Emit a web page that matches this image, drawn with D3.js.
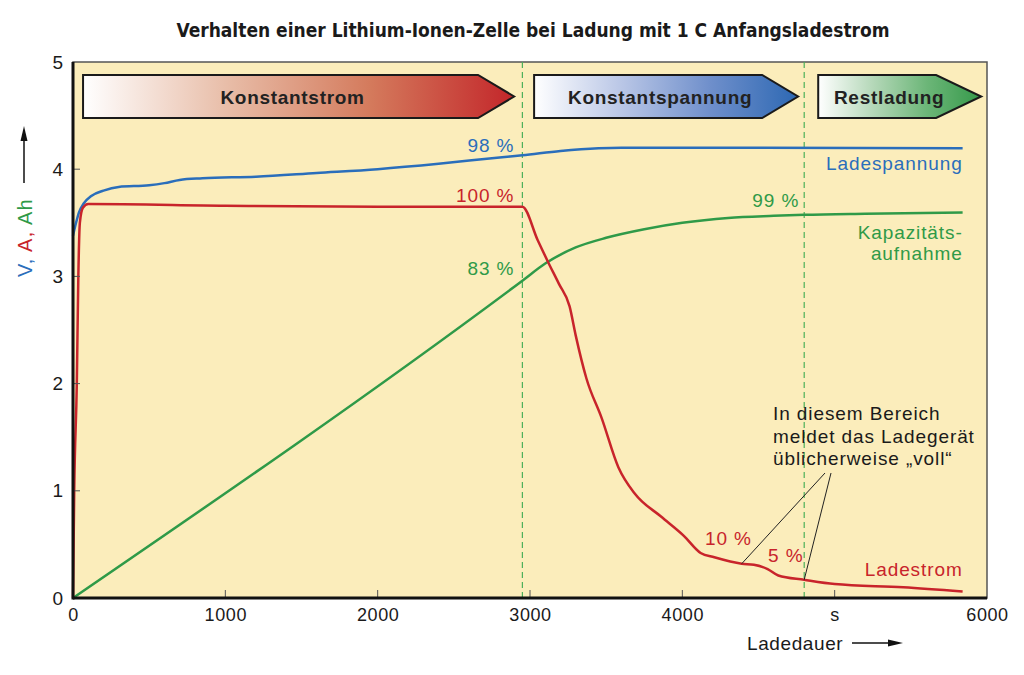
<html>
    <head>
        <title>Lithium-Ionen-Zelle Ladung</title>
        <script src="https://d3js.org/d3.v7.min.js"></script>
    </head>
    <style>
        body { margin: 0; background: #fff; }
        text { font-family: "Liberation Sans", Arial, sans-serif; }
        .narrow { font-family: "Liberation Sans Narrow", "DejaVu Sans Condensed", sans-serif; }
    </style>
    <body>
        <svg id="chart" width="1024" height="675"></svg>
        <script>
            // Ladespannung (V)
            const voltTime = [0, 20, 40, 70, 120, 200, 300, 500, 600, 700, 850, 1200, 1600, 2000, 2400, 2800, 2950, 3200, 3450, 3600, 4500, 5840];
            const voltValue = [3.38, 3.5, 3.6, 3.68, 3.75, 3.8, 3.835, 3.85, 3.87, 3.9, 3.915, 3.93, 3.965, 4.0, 4.05, 4.11, 4.13, 4.17, 4.195, 4.2, 4.2, 4.195];

            // Ladestrom (A)
            const currTime = [0, 8, 25, 35, 45, 65, 100, 1000, 2000, 2950, 3050, 3120, 3190, 3260, 3300, 3370, 3470, 3580, 3690, 3860, 4010, 4120, 4210, 4390, 4470, 4560, 4630, 4800, 5000, 5450, 5840];
            const currValue = [0, 1.0, 2.0, 3.0, 3.5, 3.64, 3.675, 3.66, 3.65, 3.65, 3.34, 3.13, 2.93, 2.72, 2.45, 2.05, 1.68, 1.22, 0.97, 0.76, 0.58, 0.42, 0.38, 0.32, 0.31, 0.27, 0.21, 0.17, 0.13, 0.10, 0.06];

            // Kapazitaetsaufnahme (Ah)
            const capTime = [0, 2950, 3100, 3300, 3500, 3750, 4000, 4300, 4600, 4800, 5200, 5840];
            const capValue = [0, 2.96, 3.12, 3.27, 3.36, 3.44, 3.5, 3.545, 3.565, 3.575, 3.585, 3.595];

            // Ladephasen
            const phaseNames = ["Konstantstrom", "Konstantspannung", "Restladung"];
            const phaseStart = [66, 3027, 4892];
            const phaseBodyEnd = [2659, 4524, 5666];
            const phaseTip = [2896, 4760, 5962];
            const phaseColors = [["#ffffff", "#e8bda8", "#d47a5c", "#c3262a"],
                                 ["#ffffff", "#b9c6e6", "#6f8fcb", "#2d68b3"],
                                 ["#ffffff", "#b5d8b9", "#6cb678", "#35994a"]];

            const phaseBorders = [2950, 4800];
            const xTicks = [0, 1000, 2000, 3000, 4000, 5000, 6000];
            const yTicks = [0, 1, 2, 3, 4, 5];

            const blue = "#2a6ebb", red = "#c8242b", green = "#2f9a48";

            const svg = d3.select("svg#chart");
            const margin = {top: 62, right: 37, bottom: 77, left: 73};
            const chartWidth = 1024 - margin.left - margin.right;
            const chartHeight = 675 - margin.top - margin.bottom;

            const xScale = d3.scaleLinear().domain([0, 6000]).range([margin.left, margin.left + chartWidth]);
            const yScale = d3.scaleLinear().domain([0, 5]).range([margin.top + chartHeight, margin.top]);

            // background
            svg.append("rect")
                .attr("x", margin.left).attr("y", margin.top)
                .attr("width", chartWidth).attr("height", chartHeight)
                .attr("fill", "#fbedbb")
                .attr("stroke", "#555").attr("stroke-width", 1.5);

            // title
            svg.append("text")
                .attr("class", "narrow")
                .attr("x", 533).attr("y", 37)
                .attr("text-anchor", "middle")
                .style("font-size", "19px").style("font-weight", "bold").attr("fill", "#1a1a1a")
                .text("Verhalten einer Lithium-Ionen-Zelle bei Ladung mit 1 C Anfangsladestrom");

            // phase borders
            phaseBorders.forEach(t => {
                svg.append("line")
                    .attr("x1", xScale(t)).attr("x2", xScale(t))
                    .attr("y1", margin.top).attr("y2", margin.top + chartHeight)
                    .attr("stroke", "#4caf5a").attr("stroke-width", 1.2)
                    .attr("stroke-dasharray", "6,4");
            });

            // phase banners
            const defs = svg.append("defs");
            const bannerTop = 75, bannerBottom = 118;
            phaseNames.forEach((name, i) => {
                let grad = defs.append("linearGradient").attr("id", "grad" + i);
                phaseColors[i].forEach((c, j) => {
                    grad.append("stop").attr("offset", (j / (phaseColors[i].length - 1) * 100) + "%").attr("stop-color", c);
                });
                let x0 = xScale(phaseStart[i]), x1 = xScale(phaseBodyEnd[i]), x2 = xScale(phaseTip[i]);
                let mid = (bannerTop + bannerBottom) / 2;
                svg.append("path")
                    .attr("d", `M${x0},${bannerTop}L${x1},${bannerTop}L${x2},${mid}L${x1},${bannerBottom}L${x0},${bannerBottom}Z`)
                    .attr("fill", `url(#grad${i})`)
                    .attr("stroke", "#1a1a1a").attr("stroke-width", 2);
                svg.append("text")
                    .attr("x", (x0 + x1) / 2 + 12).attr("y", mid + 7)
                    .attr("text-anchor", "middle")
                    .style("font-size", "19px").style("font-weight", "bold")
                    .style("letter-spacing", "0.7px").attr("fill", "#222")
                    .text(name);
            });

            // curves
            const makeLine = d3.line()
                .x(d => xScale(d[0]))
                .y(d => yScale(d[1]))
                .curve(d3.curveMonotoneX);
            const series = [[capTime, capValue, green], [voltTime, voltValue, blue], [currTime, currValue, red]];
            series.forEach(s => {
                svg.append("path")
                    .datum(s[0].map((t, i) => [t, s[1][i]]))
                    .attr("d", makeLine)
                    .attr("fill", "none")
                    .attr("stroke", s[2]).attr("stroke-width", 2.5);
            });

            // axes
            let bottomAxis = d3.axisBottom(xScale).tickValues(xTicks).tickSize(0).tickPadding(10)
                .tickFormat(d => d == 5000 ? "s" : d);
            svg.append("g")
                .attr("transform", "translate(0," + (margin.top + chartHeight) + ")")
                .call(bottomAxis)
                .call(g => g.select(".domain").remove())
                .call(g => g.selectAll("text").style("font-size", "18px")
                    .style("letter-spacing", "0.6px").attr("fill", "#1a1a1a"));
            let leftAxis = d3.axisLeft(yScale).tickValues(yTicks).tickSize(0).tickPadding(10)
                .tickFormat(d3.format("d"));
            svg.append("g")
                .attr("transform", "translate(" + margin.left + ",0)")
                .call(leftAxis)
                .call(g => g.select(".domain").remove())
                .call(g => g.selectAll("text").style("font-size", "19px").attr("fill", "#1a1a1a"));

            // inner tick marks
            xTicks.slice(1, -1).forEach(t => {
                svg.append("line")
                    .attr("x1", xScale(t)).attr("x2", xScale(t))
                    .attr("y1", yScale(0)).attr("y2", yScale(0) - 8)
                    .attr("stroke", "#555").attr("stroke-width", 1);
            });
            yTicks.slice(1, -1).forEach(v => {
                svg.append("line")
                    .attr("x1", xScale(0)).attr("x2", xScale(0) + 7)
                    .attr("y1", yScale(v)).attr("y2", yScale(v))
                    .attr("stroke", "#555").attr("stroke-width", 1);
            });

            // axis lines
            svg.append("line")
                .attr("x1", margin.left).attr("x2", margin.left + chartWidth)
                .attr("y1", yScale(0)).attr("y2", yScale(0))
                .attr("stroke", "#111").attr("stroke-width", 3);
            svg.append("line")
                .attr("x1", margin.left).attr("x2", margin.left)
                .attr("y1", margin.top).attr("y2", yScale(0) + 1.5)
                .attr("stroke", "#111").attr("stroke-width", 3);

            // axis labels
            let yLabel = svg.append("text")
                .attr("transform", "translate(32,277) rotate(-90)")
                .style("font-size", "20px").style("letter-spacing", "1.2px");
            [["V, ", blue], ["A, ", red], ["Ah", green]].forEach(p => {
                yLabel.append("tspan").attr("fill", p[1]).text(p[0]);
            });
            svg.append("line")
                .attr("x1", 24).attr("x2", 24).attr("y1", 183).attr("y2", 140)
                .attr("stroke", "#111").attr("stroke-width", 1.5);
            svg.append("path")
                .attr("d", "M24,126L27.5,141L20.5,141Z").attr("fill", "#111");

            svg.append("text")
                .attr("x", 747).attr("y", 650)
                .style("font-size", "19px").style("letter-spacing", "0.6px").attr("fill", "#1a1a1a")
                .text("Ladedauer");
            svg.append("line")
                .attr("x1", 852).attr("x2", 890).attr("y1", 643).attr("y2", 643)
                .attr("stroke", "#111").attr("stroke-width", 1.5);
            svg.append("path")
                .attr("d", "M903,643L888,639.5L888,646.5Z").attr("fill", "#111");

            // annotations
            const addText = (txt, x, y, color, anchor) => {
                svg.append("text")
                    .attr("x", x).attr("y", y)
                    .attr("text-anchor", anchor)
                    .style("font-size", "19px").style("letter-spacing", "0.9px")
                    .attr("fill", color)
                    .text(txt);
            };
            addText("98 %", xScale(2950) - 8, 152, blue, "end");
            addText("100 %", xScale(2950) - 8, 202, red, "end");
            addText("83 %", xScale(2950) - 8, 275, green, "end");
            addText("99 %", xScale(4800) - 5, 207, green, "end");
            addText("Ladespannung", xScale(5840), 170, blue, "end");
            addText("Kapazitäts-", xScale(5840), 239, green, "end");
            addText("aufnahme", xScale(5840), 260, green, "end");
            addText("Ladestrom", xScale(5840), 576, red, "end");
            addText("10 %", 705, 545, red, "start");
            addText("5 %", 768, 562, red, "start");
            addText("In diesem Bereich", 773, 420, "#1a1a1a", "start");
            addText("meldet das Ladegerät", 773, 443, "#1a1a1a", "start");
            addText("üblicherweise „voll“", 773, 465, "#1a1a1a", "start");

            // leader lines
            [[825, 4390, 0.32], [831, 4800, 0.17]].forEach(l => {
                svg.append("line")
                    .attr("x1", l[0]).attr("y1", 473)
                    .attr("x2", xScale(l[1])).attr("y2", yScale(l[2]))
                    .attr("stroke", "#222").attr("stroke-width", 1);
            });
        </script>
    </body>
</html>
